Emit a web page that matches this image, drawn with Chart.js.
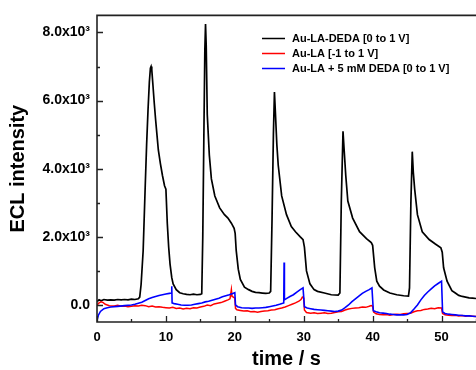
<!DOCTYPE html>
<html>
<head>
<meta charset="utf-8">
<script src="https://cdn.jsdelivr.net/npm/chart.js@4.4.1/dist/chart.umd.min.js"></script>
<style>
html,body{margin:0;padding:0;background:#fff;}
#wrap{width:476px;height:370px;position:relative;}
</style>
</head>
<body>
<div id="wrap"><canvas id="c" width="476" height="370"></canvas></div>
<script>
// ---- data ----
const seriesLabels = ["Au-LA-DEDA [0 to 1 V]", "Au-LA [-1 to 1 V]", "Au-LA + 5 mM DEDA [0 to 1 V]"];
const seriesColors = ["#000000", "#ff0000", "#0000ff"];

const blackT = [0,0.3,0.6,1,1.5,2,2.5,3,3.5,4,4.5,5,5.5,6,6.2,6.4,6.7,7.0,7.2,7.4,7.6,7.75,7.85,7.95,8.1,8.3,8.5,8.7,8.9,9.2,9.5,9.8,10.0,10.2,10.4,10.6,10.85,11.05,11.5,12,12.5,13,13.5,14,14.5,15,15.2,15.35,15.5,15.65,15.75,15.85,16.0,16.3,16.6,17.1,17.8,18.5,19.0,19.5,19.9,20.05,20.2,20.5,20.8,21.4,22,22.5,23,23.5,24,24.5,25,25.2,25.4,25.6,25.75,25.9,26.1,26.3,26.8,27.5,28.2,28.8,29.5,29.9,30.1,30.4,30.9,31.5,32,33,34,35,35.25,35.45,35.7,35.85,36.1,36.4,37.1,38.1,39.1,39.8,40.0,40.3,40.6,41,41.6,42.5,43.5,44.5,45.2,45.35,45.55,45.75,45.9,46.1,46.5,47.2,48.2,49.1,49.9,50.1,50.3,50.8,51.5,52,52.5,53,53.5,54,54.5,55];
const blackV = [100,150,120,160,140,150,140,160,150,160,150,170,160,180,230,600,1600,3500,4700,5700,6550,6950,7000,6900,6500,5950,5450,5000,4550,4150,3800,3500,3400,2400,1700,1200,800,620,450,360,330,310,300,320,300,310,330,2000,4800,7500,8250,7600,5600,4400,3700,3200,2850,2650,2550,2400,2250,2100,1600,1050,750,520,450,400,370,360,350,340,350,400,2500,5000,6250,5600,4700,4100,3200,2650,2300,2150,2000,1920,1700,1000,620,450,400,350,300,290,350,3000,5100,4600,3800,3050,2550,2150,1950,1830,1750,1090,700,550,440,350,300,270,260,500,3000,4500,3900,3400,2650,2150,1920,1790,1680,1550,1090,700,420,350,280,250,230,210,200,190];

const redT = [0,0.3,0.6,0.9,1.2,1.8,2.5,3,3.5,4,4.5,5,5.5,6,6.5,7,7.5,8,8.5,9,9.5,10,10.5,11,11.5,12,12.5,13,13.5,14,14.5,15,15.5,16,16.5,17,17.5,18,18.5,19,19.3,19.5,19.6,19.8,20.0,20.1,20.3,20.8,21.3,21.8,22.3,22.8,23.3,23.8,24.3,24.8,25.3,25.8,26.3,26.8,27.3,27.8,28.3,28.8,29.3,29.6,29.8,30.0,30.1,30.4,31,31.5,32,32.5,33,33.5,34,34.5,35,35.5,36,36.5,37,37.5,38,38.5,39,39.5,39.8,40.0,40.15,40.5,41,41.5,42,42.5,43,43.5,44,44.5,45,45.5,46,46.5,47,47.5,48,48.5,49,49.5,50,50.15,50.5,51,51.5,52,52.5,53,53.5,54,54.5,55];
const redV = [0,60,90,70,20,-20,-30,-10,-40,-30,-50,-40,-20,-30,-10,-20,-50,-30,-60,-50,-70,-80,-90,-70,-100,-90,-120,-100,-110,-80,-90,-60,-40,0,-20,30,50,70,110,150,180,450,250,230,200,-100,-140,-160,-180,-170,-200,-190,-210,-190,-180,-170,-150,-140,-110,-90,-60,-20,20,60,110,160,230,200,-150,-220,-240,-230,-250,-240,-230,-250,-240,-220,-200,-190,-150,-120,-100,-90,-80,-60,-70,-40,-20,-40,-210,-260,-280,-290,-280,-300,-280,-270,-280,-260,-250,-240,-200,-170,-160,-130,-120,-100,-110,-80,-90,-250,-290,-300,-310,-300,-320,-310,-330,-320,-330,-340];

const blueT = [0,0.2,0.5,1,1.5,2,3,4,5,5.5,6,6.5,7,7.5,8,8.5,9,9.5,10,10.5,10.8,10.85,10.9,11.2,11.7,12.2,12.7,13.2,13.7,14.2,14.7,15.2,15.7,16.2,16.7,17.2,17.7,18.2,18.7,19.2,19.7,20.0,20.1,20.4,21,21.5,22,22.5,23,23.5,24,24.5,25,25.5,26,26.5,27.1,27.15,27.2,27.6,28,28.5,29,29.5,29.9,30.1,30.5,31,31.5,32,32.5,33,33.5,34,34.5,35,35.5,36,36.5,37,37.5,38,38.5,39,39.5,39.9,40.1,40.5,41,41.5,42,42.5,43,43.5,44,44.5,45,45.5,46,46.5,47,47.5,48,48.5,49,49.5,50.0,50.15,50.5,51,51.5,52,52.5,53,53.5,54,54.5,55];
const blueV = [-450,-300,-190,-110,-80,-60,-40,-20,0,20,50,80,130,180,220,250,280,300,320,340,350,550,60,40,20,0,-10,-10,0,20,40,60,90,110,140,170,200,240,270,300,340,360,0,-50,-80,-90,-90,-100,-90,-90,-80,-70,-50,-30,-10,20,60,1250,150,200,250,300,380,450,500,-50,-90,-110,-130,-140,-150,-160,-170,-180,-190,-180,-150,-80,0,100,180,260,340,400,450,500,-170,-200,-230,-240,-250,-270,-280,-290,-290,-290,-280,-230,-120,0,150,280,380,470,560,630,700,-200,-250,-270,-280,-290,-300,-310,-320,-320,-330,-340];

const xTickStep = 10;
const yTickValues = [0, 2000, 4000, 6000, 8000];
const xMin = 0, xMax = 55;
const yMin = -500, yMax = 8500;

function pts(t, v){ return t.map((x,i)=>({x:x, y:v[i]})); }

// inward ticks + frame
const framePlugin = {
  id: 'frame',
  afterDatasetsDraw(chart){
    const {ctx, chartArea:a, scales} = chart;
    const xs = scales.x, ys = scales.y;
    ctx.save();
    ctx.strokeStyle = '#222';
    ctx.lineWidth = 1.3;
    ctx.beginPath();
    for (let v = xMin; v <= xMax; v += 5) {
      const px = Math.round(xs.getPixelForValue(v)) + 0.5;
      const len = (v % 10 === 0) ? 6 : 3;
      ctx.moveTo(px, a.bottom); ctx.lineTo(px, a.bottom - len);
    }
    for (let v = 0; v <= yMax; v += 1000) {
      const py = Math.round(ys.getPixelForValue(v)) + 0.5;
      const len = (v % 2000 === 0) ? 6 : 3;
      ctx.moveTo(a.left, py); ctx.lineTo(a.left + len, py);
    }
    ctx.stroke();
    ctx.lineWidth = 1.6;
    ctx.beginPath();
    ctx.moveTo(a.right + 2, a.top); ctx.lineTo(a.left, a.top);
    ctx.lineTo(a.left, a.bottom); ctx.lineTo(a.right + 2, a.bottom);
    ctx.stroke();
    ctx.restore();
  }
};

const legendPlugin = {
  id: 'legendBox',
  afterDraw(chart){
    const ctx = chart.ctx;
    ctx.save();
    ctx.font = 'bold 11px "Liberation Sans", Arial, sans-serif';
    ctx.textBaseline = 'middle';
    ctx.textAlign = 'left';
    chart.data.datasets.forEach((ds, i) => {
      const y = 38.5 + i * 15;
      ctx.strokeStyle = ds.borderColor;
      ctx.lineWidth = 1.5;
      ctx.beginPath();
      ctx.moveTo(262, y); ctx.lineTo(285, y);
      ctx.stroke();
      ctx.fillStyle = '#000';
      ctx.fillText(ds.label, 292, y);
    });
    ctx.restore();
  }
};

new Chart(document.getElementById('c'), {
  type: 'line',
  data: {
    datasets: [
      {label: seriesLabels[0], data: pts(blackT, blackV), borderColor: seriesColors[0], borderWidth: 1.7, order: 3},
      {label: seriesLabels[1], data: pts(redT, redV), borderColor: seriesColors[1], borderWidth: 1.5, order: 2},
      {label: seriesLabels[2], data: pts(blueT, blueV), borderColor: seriesColors[2], borderWidth: 1.6, order: 1}
    ]
  },
  options: {
    responsive: false,
    animation: false,
    devicePixelRatio: 1,
    elements: { point: { radius: 0 }, line: { tension: 0 } },
    layout: { padding: { top: 14, right: 0, left: 0, bottom: 0 } },
    plugins: { legend: { display: false }, tooltip: { enabled: false } },
    scales: {
      x: {
        type: 'linear', min: xMin, max: xMax,
        grid: { drawOnChartArea: false, drawTicks: false },
        border: { display: false },
        ticks: { stepSize: xTickStep, includeBounds: false, padding: 8, color: '#000',
                 font: { family: '"Liberation Sans", Arial, sans-serif', size: 13, weight: 'bold' } },
        title: { display: true, text: 'time / s', color: '#000', padding: 0,
                 font: { family: '"Liberation Sans", Arial, sans-serif', size: 20, weight: 'bold', lineHeight: 1.1 } },
        afterFit(s){ s.height = 48; }
      },
      y: {
        type: 'linear', min: yMin, max: yMax,
        grid: { drawOnChartArea: false, drawTicks: false },
        border: { display: false },
        afterBuildTicks(s){ s.ticks = yTickValues.map(v=>({value:v})); },
        ticks: { padding: 7, color: '#000',
                 font: { family: '"Liberation Sans", Arial, sans-serif', size: 14, weight: 'bold' },
                 callback: (v) => v === 0 ? '0.0' : (v/1000).toFixed(1) + 'x10\u00B3' },
        title: { display: true, text: 'ECL intensity', color: '#000', padding: { top: 6, bottom: 0 },
                 font: { family: '"Liberation Sans", Arial, sans-serif', size: 20, weight: 'bold' } },
        afterFit(s){ s.width = 97; }
      }
    }
  },
  plugins: [framePlugin, legendPlugin]
});
</script>
</body>
</html>
